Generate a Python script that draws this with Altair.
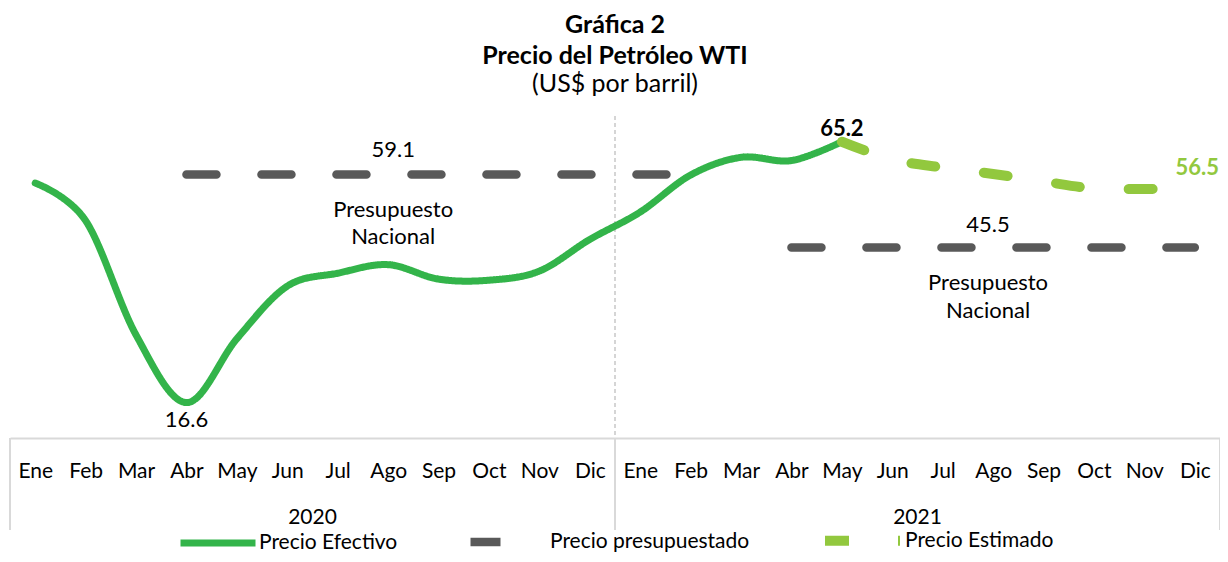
import altair as alt
import pandas as pd

# ---------------- data ----------------
months = ["Ene", "Feb", "Mar", "Abr", "May", "Jun", "Jul", "Ago", "Sep", "Oct", "Nov", "Dic"]
years = ["2020", "2021"]

# Precio Efectivo: Ene-2020 .. May-2021 (index 0..16)
efectivo = [57.5, 50.5, 29.2, 16.6, 28.5, 38.3, 40.7, 42.3, 39.6, 39.4, 41.1, 47.0,
            52.1, 59.0, 62.3, 61.7, 65.2]
# Precio Estimado: May-2021 .. Dic-2021 (index 16..23)
estimado_start = 16
estimado = [65.2, 61.9, 60.4, 59.2, 57.8, 56.5, 56.4, 56.5]
# Precio presupuestado (Presupuesto Nacional)
presup_values = [59.1, 45.5]
presup_start = [3, 15]
presup_end = [13, 23]

series_names = ["Precio Efectivo", "Precio presupuestado", "Precio Estimado"]
series_colors = ["#33B44A", "#595959", "#92C83E"]
series_dash = [[1, 0], [30, 45], [24, 49]]
series_width = [7, 10, 9]

# annotations
ann_text = ["59.1", "Presupuesto", "Nacional", "45.5", "Presupuesto", "Nacional", "16.6"]
ann_x = [7.1, 7.1, 7.1, 18.9, 18.9, 18.9, 3]
ann_y = [63.7, 52.5, 47.5, 49.7, 38.9, 33.7, 13.3]
bold_text = ["65.2"]
bold_x = [16]
bold_y = [67.6]
est_text = ["56.5"]
est_x = [23.5]
est_y = [60.4]

sep_x = [-0.5, 11.5, 23.5]
year_x = [5.5, 17.5]

FONT = "Lato"
FS = 21
FA = 22

# ---------------- tables ----------------
rows = []
for i, v in enumerate(efectivo):
    rows.append({"i": i, "valor": v, "serie": series_names[0], "tramo": "ef"})
for k, v in enumerate(presup_values):
    rows.append({"i": presup_start[k], "valor": v, "serie": series_names[1], "tramo": f"p{k}"})
    rows.append({"i": presup_end[k], "valor": v, "serie": series_names[1], "tramo": f"p{k}"})
for k, v in enumerate(estimado):
    rows.append({"i": estimado_start + k, "valor": v, "serie": series_names[2], "tramo": "es"})
lines_df = pd.DataFrame(rows)

ann_df = pd.DataFrame({"i": ann_x, "valor": ann_y, "t": ann_text})
bold_df = pd.DataFrame({"i": bold_x, "valor": bold_y, "t": bold_text})
est_df = pd.DataFrame({"i": est_x, "valor": est_y, "t": est_text})
sep_df = pd.DataFrame({"i": sep_x})
div_df = pd.DataFrame({"i": [11.5]})
year_df = pd.DataFrame({"i": year_x, "t": years})

W, H = 1210, 322
xscale = alt.Scale(domain=[-0.5, 23.5], nice=False, zero=False)
yscale = alt.Scale(domain=[10, 70], nice=False, zero=False)

label_expr = "[" + ",".join(f"'{m}'" for m in months) + "][datum.value % 12]"

x_axis = alt.Axis(values=list(range(24)), labelExpr=label_expr, grid=False, ticks=False,
                  domain=True, domainColor="#D9D9D9", domainWidth=2, labelFont=FONT,
                  labelFontSize=FS, labelColor="#000000", labelPadding=22, title=None,
                  labelFlush=False, labelOverlap=False)

base_x = alt.X("i:Q", scale=xscale, axis=x_axis)
base_y = alt.Y("valor:Q", scale=yscale, axis=None)

divider = alt.Chart(div_df).mark_rule(color="#BFBFBF", strokeWidth=1.3, strokeDash=[4, 3]).encode(
    x=alt.X("i:Q", scale=xscale, axis=x_axis)
)

seps = alt.Chart(sep_df).mark_rule(color="#D9D9D9", strokeWidth=2).encode(
    x=alt.X("i:Q", scale=xscale), y=alt.value(H), y2=alt.value(H + 92)
)

years_txt = alt.Chart(year_df).mark_text(font=FONT, fontSize=FS, color="#000000").encode(
    x=alt.X("i:Q", scale=xscale), y=alt.value(H + 80), text="t:N"
)

lines = alt.Chart(lines_df).mark_line(interpolate="cardinal", strokeCap="round", strokeJoin="round").encode(
    x=base_x,
    y=base_y,
    color=alt.Color("serie:N", scale=alt.Scale(domain=series_names, range=series_colors),
                    legend=alt.Legend(title=None)),
    strokeDash=alt.StrokeDash("serie:N", scale=alt.Scale(domain=series_names, range=series_dash),
                              legend=alt.Legend(title=None)),
    strokeWidth=alt.StrokeWidth("serie:N", scale=alt.Scale(domain=series_names, range=series_width),
                                legend=None),
    detail="tramo:N",
)

ann = alt.Chart(ann_df).mark_text(font=FONT, fontSize=FA, color="#000000").encode(
    x=alt.X("i:Q", scale=xscale), y=alt.Y("valor:Q", scale=yscale), text="t:N"
)
bold = alt.Chart(bold_df).mark_text(font=FONT, fontSize=FA, fontWeight="bold", color="#000000").encode(
    x=alt.X("i:Q", scale=xscale), y=alt.Y("valor:Q", scale=yscale), text="t:N"
)
est = alt.Chart(est_df).mark_text(font=FONT, fontSize=FA, fontWeight="bold", color="#92C83E",
                                  align="right", dx=-1).encode(
    x=alt.X("i:Q", scale=xscale), y=alt.Y("valor:Q", scale=yscale), text="t:N"
)

chart = alt.layer(divider, seps, years_txt, lines, ann, bold, est).properties(
    width=W,
    height=H,
    autosize=alt.AutoSizeParams(type="none"),
    padding={"left": 2, "top": 108, "right": 0, "bottom": 116},
    title=alt.TitleParams(
        text=["Gráfica 2", "Precio del Petróleo WTI"],
        subtitle="(US$ por barril)",
        font=FONT, fontSize=25, fontWeight="bold", color="#000000",
        subtitleFont=FONT, subtitleFontSize=25, subtitleColor="#000000",
        lineHeight=31, subtitleLineHeight=31, subtitlePadding=3,
        anchor="middle", offset=18,
    ),
).configure_view(stroke=None).configure_legend(
    orient="none", legendX=167, legendY=382, direction="horizontal",
    symbolType="stroke", symbolSize=5625, symbolStrokeWidth=8,
    labelFont=FONT, labelFontSize=FS, labelColor="#000000", labelLimit=400,
    columnPadding=55, labelOffset=0, symbolLimit=0,
)

chart.save("out.html", embed_options={"renderer": "svg", "actions": False})
